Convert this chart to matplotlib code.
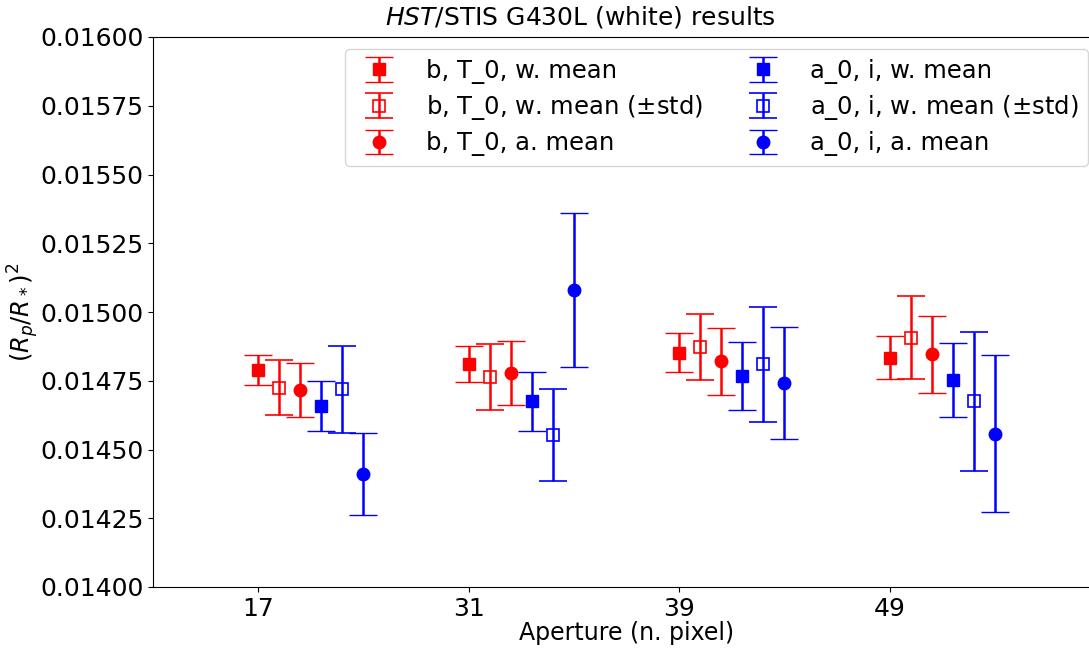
import numpy as np
import matplotlib
matplotlib.use("Agg")
import matplotlib.pyplot as plt
from matplotlib.ticker import FormatStrFormatter

apertures = ["17", "31", "39", "49"]

# b, T_0 fits (red)
bt_wmean = [0.014789, 0.014812, 0.014852, 0.014834]
bt_wmean_err = [0.000054, 0.000065, 0.000071, 0.000077]
bt_wmean_std = [0.014724, 0.014765, 0.014872, 0.014907]
bt_wmean_std_err = [0.000100, 0.000120, 0.000121, 0.000152]
bt_amean = [0.014716, 0.014777, 0.014821, 0.014847]
bt_amean_err = [0.000099, 0.000116, 0.000122, 0.000140]

# a_0, i fits (blue)
ai_wmean = [0.014658, 0.014675, 0.014768, 0.014753]
ai_wmean_err = [0.000092, 0.000107, 0.000123, 0.000134]
ai_wmean_std = [0.014719, 0.014552, 0.014810, 0.014675]
ai_wmean_std_err = [0.000158, 0.000168, 0.000209, 0.000253]
ai_amean = [0.014411, 0.015080, 0.014742, 0.014557]
ai_amean_err = [0.000150, 0.000279, 0.000205, 0.000286]

series = [
    (bt_wmean, bt_wmean_err, 'red', 's', True, 'b, T_0, w. mean'),
    (bt_wmean_std, bt_wmean_std_err, 'red', 's', False, 'b, T_0, w. mean ($\\pm$std)'),
    (bt_amean, bt_amean_err, 'red', 'o', True, 'b, T_0, a. mean'),
    (ai_wmean, ai_wmean_err, 'blue', 's', True, 'a_0, i, w. mean'),
    (ai_wmean_std, ai_wmean_std_err, 'blue', 's', False, 'a_0, i, w. mean ($\\pm$std)'),
    (ai_amean, ai_amean_err, 'blue', 'o', True, 'a_0, i, a. mean'),
]

plt.rcParams['font.size'] = 16
fig = plt.figure(figsize=(10.89, 6.48), dpi=100)
# right edge of the axes runs a bit past the figure (cropped in the original)
ax = fig.add_axes([153 / 1089, 61 / 648, 947 / 1089, 550 / 648])

x = np.arange(len(apertures))
for k, (y, e, col, mk, filled, lab) in enumerate(series):
    ax.errorbar(x + 0.1 * k, y, yerr=e, fmt=mk, color=col,
                mfc=col if filled else 'none', mec=col,
                ms=9 if filled else 8, mew=1.2 if not filled else 1,
                elinewidth=1.8, capsize=10, capthick=1.8, label=lab)

ax.set_xticks(x)
ax.set_xticklabels(apertures)
ax.set_xlim(-0.5, 4.0)
ax.set_ylim(0.014, 0.016)
ax.set_yticks(np.arange(0.014, 0.016001, 0.00025))
ax.yaxis.set_major_formatter(FormatStrFormatter('%.5f'))
ax.tick_params(labelsize=18)
ax.set_xlabel('Aperture (n. pixel)', fontsize=17, labelpad=0)
ax.set_ylabel('$(R_p/R_*)^2$', fontsize=17.5, labelpad=-1)
ax.set_title('$HST$/STIS G430L (white) results', fontsize=18, pad=9, x=0.451)
ax.legend(loc='upper right', ncol=2, fontsize=17.5, borderaxespad=0.5,
          columnspacing=1.5, handletextpad=0.9, labelspacing=0.38)

fig.savefig('out.png', dpi=100)
